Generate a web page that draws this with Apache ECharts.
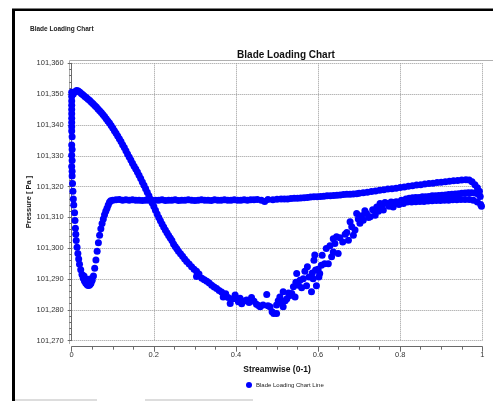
<!DOCTYPE html>
<html>
<head>
<meta charset="utf-8">
<title>Blade Loading Chart</title>
<script src="https://cdn.jsdelivr.net/npm/echarts@6/dist/echarts.min.js"></script>
<style>
    html, body { margin: 0; padding: 0; background: #fff; }
    #blade-chart { width: 493px; height: 401px; }
</style>
</head>
<body>
<div id="blade-chart"></div>
<script>
// 读图得到的点 [streamwise (0-1), pressure Pa]
// leading edge, vertical run at s = 0
var leadingEdge = [
    [0.000, 101350.6], [0.000, 101349.2], [0.000, 101347.8], [0.000, 101346.4], [0.000, 101345.0],
    [0.000, 101343.6], [0.000, 101342.2], [0.000, 101340.8], [0.000, 101339.4], [0.000, 101338.0],
    [0.001, 101336.2], [0.000, 101333.5], [0.001, 101332.0], [0.000, 101330.2], [0.001, 101328.5],
    [0.000, 101326.5], [0.001, 101325.0], [0.001, 101323.4], [0.002, 101321.0]
];
// small loop down to the 101,288 dip
var loopDown = [
    [0.003, 101318.5], [0.004, 101316.0], [0.005, 101314.0], [0.007, 101311.5], [0.008, 101309.0],
    [0.009, 101306.5], [0.010, 101304.5], [0.011, 101302.5], [0.013, 101300.3], [0.015, 101298.3],
    [0.017, 101296.5], [0.019, 101294.8], [0.022, 101293.0], [0.025, 101291.5], [0.028, 101290.3],
    [0.031, 101289.4], [0.034, 101288.7], [0.037, 101288.2], [0.040, 101287.9], [0.043, 101288.0],
    [0.045, 101288.3], [0.030, 101291.0], [0.035, 101290.0], [0.040, 101289.5], [0.045, 101290.0]
];
var loopUp = [
    [0.047, 101288.6], [0.050, 101289.6], [0.053, 101291.0], [0.056, 101293.5], [0.059, 101296.2],
    [0.062, 101299.0], [0.065, 101301.8], [0.068, 101304.2], [0.071, 101306.3], [0.074, 101308.0],
    [0.077, 101309.5], [0.080, 101310.9], [0.083, 101312.0], [0.086, 101313.0], [0.089, 101314.0],
    [0.092, 101314.9], [0.095, 101315.4]
];
// long flat run around 101,315.6
var flatLine = [
    [0.100, 101315.6], [0.108, 101315.7], [0.116, 101315.8], [0.124, 101315.6], [0.132, 101315.7],
    [0.140, 101315.6], [0.148, 101315.7], [0.156, 101315.6], [0.164, 101315.6], [0.172, 101315.5],
    [0.180, 101315.6], [0.188, 101315.6], [0.196, 101315.5], [0.204, 101315.6], [0.212, 101315.6],
    [0.220, 101315.7], [0.228, 101315.5], [0.236, 101315.6], [0.244, 101315.6], [0.252, 101315.7],
    [0.260, 101315.5], [0.268, 101315.6], [0.276, 101315.6], [0.284, 101315.7], [0.292, 101315.6],
    [0.300, 101315.5], [0.308, 101315.6], [0.316, 101315.7], [0.324, 101315.6], [0.332, 101315.6],
    [0.340, 101315.5], [0.348, 101315.7], [0.356, 101315.6], [0.364, 101315.6], [0.372, 101315.7],
    [0.380, 101315.6], [0.388, 101315.6], [0.396, 101315.7], [0.404, 101315.6], [0.412, 101315.6],
    [0.420, 101315.7], [0.428, 101315.6], [0.436, 101315.7], [0.444, 101315.7], [0.452, 101315.8],
    [0.462, 101315.6], [0.470, 101315.2], [0.478, 101315.8], [0.490, 101315.7], [0.500, 101315.9],
    [0.510, 101316.0], [0.518, 101316.0], [0.526, 101316.0], [0.534, 101316.1], [0.542, 101316.2],
    [0.550, 101316.2], [0.558, 101316.3], [0.566, 101316.4], [0.574, 101316.5], [0.582, 101316.6],
    [0.590, 101316.7], [0.598, 101316.7], [0.606, 101316.8], [0.614, 101316.9], [0.622, 101317.0],
    [0.630, 101317.0], [0.638, 101317.1], [0.646, 101317.2], [0.654, 101317.3], [0.662, 101317.4],
    [0.670, 101317.5], [0.678, 101317.5], [0.686, 101317.6], [0.694, 101317.7]
];
var upperBand = [
    [0.700, 101317.8], [0.710, 101318.0], [0.720, 101318.2], [0.730, 101318.4], [0.740, 101318.6],
    [0.750, 101318.8], [0.760, 101319.0], [0.770, 101319.2], [0.780, 101319.3], [0.790, 101319.5],
    [0.800, 101319.7], [0.810, 101319.9], [0.820, 101320.1], [0.830, 101320.3], [0.840, 101320.5],
    [0.850, 101320.6], [0.860, 101320.8], [0.870, 101321.0], [0.880, 101321.1], [0.890, 101321.3],
    [0.900, 101321.4], [0.910, 101321.6], [0.920, 101321.7], [0.930, 101321.9], [0.940, 101322.0],
    [0.950, 101322.1], [0.960, 101322.2], [0.968, 101322.1], [0.975, 101321.6], [0.982, 101320.6],
    [0.988, 101319.6], [0.993, 101318.5]
];
// peak branch falling to the minimum near s = 0.49
var fallBranch = [
    [0.004, 101350.0], [0.008, 101350.8], [0.012, 101351.2], [0.016, 101351.0], [0.020, 101350.6],
    [0.024, 101350.1], [0.028, 101349.7], [0.032, 101349.2], [0.036, 101348.8], [0.040, 101348.3],
    [0.044, 101347.9], [0.048, 101347.4], [0.052, 101346.9], [0.056, 101346.3], [0.060, 101345.8],
    [0.064, 101345.2], [0.068, 101344.6], [0.072, 101344.0], [0.076, 101343.4], [0.080, 101342.7],
    [0.084, 101342.0], [0.088, 101341.3], [0.092, 101340.6], [0.096, 101339.8], [0.100, 101339.0],
    [0.104, 101338.1], [0.108, 101337.3], [0.112, 101336.4], [0.116, 101335.5], [0.120, 101334.6],
    [0.124, 101333.6], [0.128, 101332.7], [0.132, 101331.6], [0.136, 101330.6], [0.140, 101329.6],
    [0.144, 101328.6], [0.148, 101327.6], [0.152, 101326.6], [0.156, 101325.7], [0.160, 101324.7],
    [0.164, 101323.7], [0.168, 101322.6], [0.172, 101321.5], [0.176, 101320.4], [0.180, 101319.3],
    [0.184, 101318.2], [0.188, 101317.0], [0.192, 101315.9], [0.196, 101314.7], [0.200, 101313.5],
    [0.204, 101312.3], [0.208, 101311.1], [0.212, 101310.0], [0.216, 101308.9], [0.220, 101307.9],
    [0.224, 101306.9], [0.228, 101305.9], [0.232, 101305.0], [0.236, 101304.1], [0.240, 101303.3],
    [0.244, 101302.5], [0.248, 101301.4], [0.252, 101300.6], [0.256, 101299.8], [0.260, 101299.0],
    [0.265, 101298.2], [0.270, 101297.4], [0.275, 101296.5], [0.280, 101295.7], [0.286, 101294.9],
    [0.292, 101294.0], [0.298, 101293.2], [0.304, 101292.5], [0.304, 101290.8], [0.310, 101291.6],
    [0.317, 101290.3], [0.323, 101289.8], [0.329, 101289.3], [0.335, 101288.7], [0.341, 101288.0],
    [0.347, 101287.4], [0.353, 101286.9], [0.359, 101286.3], [0.365, 101285.8], [0.369, 101284.2],
    [0.375, 101285.2], [0.381, 101284.0], [0.386, 101282.1], [0.392, 101283.6], [0.398, 101284.8],
    [0.402, 101283.5], [0.406, 101282.6], [0.410, 101283.8], [0.414, 101282.0], [0.420, 101282.9],
    [0.426, 101283.2], [0.432, 101282.4], [0.438, 101284.0], [0.444, 101282.8], [0.450, 101281.8],
    [0.455, 101281.4], [0.459, 101281.0], [0.466, 101281.6], [0.475, 101285.0], [0.478, 101281.3],
    [0.483, 101281.0], [0.488, 101279.4], [0.492, 101278.8], [0.499, 101278.8]
];
// scattered recovery from the minimum
var riseBranch = [
    [0.499, 101281.6], [0.503, 101283.0], [0.507, 101284.2], [0.511, 101282.5], [0.515, 101281.0],
    [0.515, 101285.9], [0.520, 101283.0], [0.524, 101283.6], [0.528, 101285.5], [0.532, 101284.7],
    [0.536, 101285.3], [0.540, 101287.5], [0.544, 101284.2], [0.546, 101289.0], [0.548, 101291.8],
    [0.552, 101288.0], [0.556, 101289.6], [0.560, 101287.2], [0.564, 101290.1], [0.568, 101292.5],
    [0.572, 101287.8], [0.574, 101294.0], [0.578, 101290.7], [0.584, 101285.9], [0.586, 101292.0],
    [0.588, 101290.1], [0.590, 101296.1], [0.592, 101297.8], [0.594, 101292.9], [0.596, 101287.8],
    [0.600, 101293.2], [0.602, 101290.7], [0.604, 101291.8], [0.608, 101294.5], [0.610, 101297.7],
    [0.616, 101295.0], [0.620, 101299.9], [0.625, 101295.0], [0.629, 101300.8], [0.633, 101297.2],
    [0.637, 101298.8], [0.637, 101303.1], [0.641, 101301.5], [0.645, 101303.7], [0.649, 101298.3],
    [0.653, 101303.4], [0.660, 101302.0], [0.666, 101304.5], [0.670, 101305.1], [0.674, 101302.6],
    [0.678, 101308.6], [0.682, 101307.0], [0.686, 101304.2], [0.690, 101305.9], [0.694, 101311.3],
    [0.698, 101309.5], [0.702, 101308.1], [0.706, 101310.5], [0.710, 101309.1], [0.714, 101312.2],
    [0.718, 101311.3], [0.723, 101310.0], [0.727, 101310.2], [0.733, 101312.5], [0.739, 101310.7],
    [0.743, 101313.4], [0.747, 101312.0], [0.751, 101314.5], [0.755, 101313.2], [0.759, 101312.4],
    [0.763, 101314.8], [0.767, 101314.5], [0.773, 101313.6], [0.778, 101315.0], [0.783, 101313.4],
    [0.787, 101314.9], [0.791, 101315.1], [0.797, 101314.2], [0.803, 101315.6], [0.808, 101314.5]
];
// thick band running into the trailing edge
var lowerBandA = [
    [0.814, 101316.0], [0.822, 101316.2], [0.830, 101316.4], [0.838, 101316.5], [0.846, 101316.5],
    [0.854, 101316.7], [0.862, 101316.7], [0.870, 101316.8], [0.878, 101317.0], [0.886, 101317.0],
    [0.894, 101317.1], [0.902, 101317.2], [0.910, 101317.3], [0.918, 101317.4], [0.926, 101317.5],
    [0.934, 101317.6], [0.942, 101317.7], [0.950, 101317.8], [0.958, 101317.9], [0.966, 101318.0],
    [0.974, 101318.0], [0.982, 101317.9], [0.990, 101317.5], [0.995, 101316.8]
];
var lowerBandB = [
    [0.818, 101315.0], [0.828, 101315.0], [0.838, 101315.1], [0.848, 101315.2], [0.858, 101315.2],
    [0.868, 101315.3], [0.878, 101315.4], [0.888, 101315.5], [0.898, 101315.5], [0.908, 101315.6],
    [0.918, 101315.6], [0.928, 101315.7], [0.938, 101315.7], [0.948, 101315.8], [0.958, 101315.8],
    [0.968, 101315.8], [0.978, 101315.6], [0.988, 101315.0], [0.996, 101314.2], [0.998, 101313.6]
];

var seriesName = 'Blade Loading Chart Line';
var chartTitle = 'Blade Loading Chart';
var xName = 'Streamwise (0-1)';
var yName = 'Pressure [ Pa ]';

var bladeData = [].concat(leadingEdge, loopDown, loopUp, flatLine, upperBand,
    fallBranch, riseBranch, lowerBandA, lowerBandB);

function thousands(v) {
    return String(v).replace(/\B(?=(\d{3})+(?!\d))/g, ',');
}

var chart = echarts.init(document.getElementById('blade-chart'), null, {renderer: 'canvas'});
var font = 'Liberation Sans';
var gridColor = '#999999';
var axisColor = '#6a6a6a';

var option = {
    backgroundColor: '#ffffff',
    animation: false,
    title: [{
        text: chartTitle,
        left: 25, top: 21,
        textStyle: {fontFamily: font, fontSize: 6.5, fontWeight: 'bold', color: '#222'}
    }, {
        text: chartTitle,
        left: 281, top: 45, textAlign: 'center',
        textStyle: {fontFamily: font, fontSize: 10, fontWeight: 'bold', color: '#111'}
    }],
    legend: {
        data: [seriesName],
        left: 241, top: 377,
        icon: 'circle', itemWidth: 6, itemHeight: 6, itemGap: 4,
        textStyle: {fontFamily: font, fontSize: 6, color: '#222', padding: [0, 0, 0, -1]}
    },
    grid: {left: 71.7, right: 10.7, top: 63.3, bottom: 60.3},
    xAxis: {
        type: 'value',
        min: 0, max: 1, interval: 0.2,
        offset: 6,
        name: xName,
        nameLocation: 'middle',
        nameGap: 18,
        nameTextStyle: {fontFamily: font, fontSize: 8.5, fontWeight: 'bold', color: '#111'},
        axisLine: {lineStyle: {color: axisColor, width: 1}},
        axisTick: {length: 5, lineStyle: {color: axisColor}},
        minorTick: {show: true, splitNumber: 4, length: 3, lineStyle: {color: axisColor}},
        axisLabel: {fontFamily: font, fontSize: 7.5, color: '#333', margin: 4},
        splitLine: {show: true, lineStyle: {color: gridColor, type: 'dotted', width: 1}}
    },
    yAxis: {
        type: 'value',
        min: 101270, max: 101360, interval: 10,
        offset: 5,
        name: yName,
        nameLocation: 'middle',
        nameGap: 34,
        nameMoveOverlap: false,
        nameRotate: 90,
        nameTextStyle: {fontFamily: font, fontSize: 7.5, fontWeight: 'bold', color: '#111'},
        axisLine: {show: true, lineStyle: {color: axisColor, width: 1}},
        axisTick: {show: true, length: 4, lineStyle: {color: axisColor}},
        minorTick: {show: true, splitNumber: 5, length: 2.5, lineStyle: {color: axisColor}},
        axisLabel: {fontFamily: font, fontSize: 7.5, color: '#333', margin: 3, formatter: thousands},
        splitLine: {show: true, lineStyle: {color: gridColor, type: 'dotted', width: 1}}
    },
    graphic: [
        // 外框
        {type: 'line', shape: {x1: 13.5, y1: 9, x2: 13.5, y2: 401}, style: {stroke: '#000', lineWidth: 3}},
        {type: 'line', shape: {x1: 12, y1: 9.7, x2: 493, y2: 9.7}, style: {stroke: '#000', lineWidth: 2.5}},
        // plot frame
        {type: 'line', shape: {x1: 69.5, y1: 60.5, x2: 69.5, y2: 344}, style: {stroke: '#b0b0b0', lineWidth: 1}},
        {type: 'line', shape: {x1: 69.5, y1: 60.5, x2: 493, y2: 60.5}, style: {stroke: '#b0b0b0', lineWidth: 1}},
        // strips at the bottom edge
        {type: 'line', shape: {x1: 15, y1: 400, x2: 97, y2: 400}, style: {stroke: '#dddddd', lineWidth: 2}},
        {type: 'line', shape: {x1: 145, y1: 400, x2: 253, y2: 400}, style: {stroke: '#dddddd', lineWidth: 2}}
    ],
    series: [{
        name: seriesName,
        type: 'scatter',
        symbol: 'circle',
        symbolSize: 7,
        clip: false,
        itemStyle: {color: '#0000ff', opacity: 1},
        data: bladeData
    }]
};

chart.setOption(option);
</script>
</body>
</html>
